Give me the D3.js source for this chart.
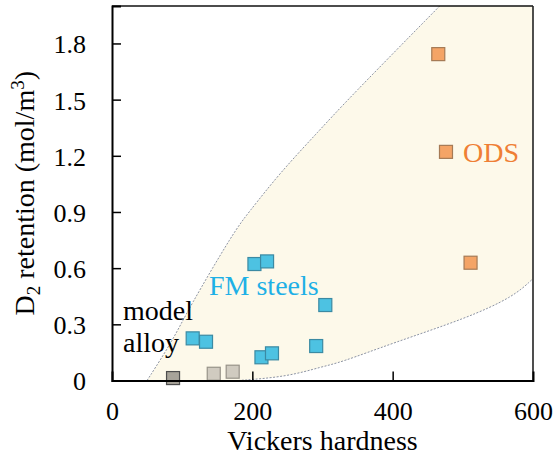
<!DOCTYPE html>
<html>
<head>
<meta charset="utf-8">
<script src="https://cdn.jsdelivr.net/npm/d3@7/dist/d3.min.js"></script>
<style>
  html, body { margin: 0; padding: 0; background: #fff; }
</style>
</head>
<body>
<svg id="chart" width="555" height="456"></svg>
<script>
// Vickers hardness (HV) and D2 retention (mol/m^3) for each material group
const modelHardness = [87, 145, 172];
const modelRetention = [0.013, 0.036, 0.047];

const fmHardness = [115, 134, 203, 221, 213, 228, 291, 304];
const fmRetention = [0.225, 0.207, 0.622, 0.636, 0.124, 0.145, 0.184, 0.403];

const odsHardness = [465, 476, 511];
const odsRetention = [1.743, 1.221, 0.629];

// Tick values
const xTicks = [0, 200, 400, 600];
const yTicks = [0, 0.3, 0.6, 0.9, 1.2, 1.5, 1.8];
const yTickLabels = ["0", "0.3", "0.6", "0.9", "1.2", "1.5", "1.8"];

// Envelope of the data band (hardness, retention)
const bandUpper = [[50, 0], [87, 0.216], [108, 0.376], [175, 0.803], [194, 0.893],
                   [239, 1.108], [296, 1.337], [335, 1.497], [467, 2.0]];
const bandLower = [[180, 0], [250, 0.02], [300, 0.075], [325, 0.095], [400, 0.2],
                   [505, 0.332], [572, 0.447], [598, 0.537]];

const FONT = "'Liberation Serif'";

const svg = d3.select("#chart");
const x = d3.scaleLinear().domain([0, 600]).range([112, 533]);
const y = d3.scaleLinear().domain([0, 2]).range([380.5, 6]);

// Shaded band
const bandLine = d3.line().x(d => x(d[0])).y(d => y(d[1])).curve(d3.curveBasis);

const upperD = bandLine(bandUpper);
const lowerRev = bandLower.slice().reverse();
const areaD = upperD +
  "L" + x(600) + "," + y(2) +
  "L" + x(600) + "," + y(bandLower[bandLower.length - 1][1]) +
  bandLine(lowerRev).replace(/^M/, "L") +
  "Z";

svg.append("path").attr("d", areaD).attr("fill", "#fdf9ea").attr("stroke", "none");

const dashStyle = sel => sel.attr("fill", "none").attr("stroke", "#8c93a3")
  .attr("stroke-width", 1).attr("stroke-dasharray", "2,1.5");
svg.append("path").attr("d", upperD).call(dashStyle);
svg.append("path").attr("d", bandLine(bandLower)).call(dashStyle);

// Markers
const side = 13;
function squares(hs, rs, fill, stroke) {
  svg.append("g").selectAll("rect")
    .data(hs.map((h, i) => [h, rs[i]]))
    .join("rect")
    .attr("x", d => x(d[0]) - side / 2)
    .attr("y", d => y(d[1]) - side / 2)
    .attr("width", side).attr("height", side)
    .attr("fill", typeof fill === "function" ? (d, i) => fill(i) : fill)
    .attr("stroke", typeof stroke === "function" ? (d, i) => stroke(i) : stroke)
    .attr("stroke-width", 1.2);
}
squares(fmHardness, fmRetention, "#4dc2e2", "#3b8aa3");
squares(odsHardness, odsRetention, "#f4a466", "#a57a55");
squares(modelHardness, modelRetention,
  i => i === 0 ? "#a7a399" : "#d0cbc0",
  i => i === 0 ? "#4d4d4d" : "#979389");

// Frame
svg.append("line").attr("x1", x(0)).attr("x2", x(600)).attr("y1", y(2)).attr("y2", y(2))
  .attr("stroke", "#111").attr("stroke-width", 1.6);
svg.append("line").attr("x1", x(600)).attr("x2", x(600)).attr("y1", y(2)).attr("y2", y(0))
  .attr("stroke", "#222").attr("stroke-width", 1.6);

// Axes (ticks point inward)
const xAxis = d3.axisBottom(x).tickValues(xTicks).tickSize(-9).tickPadding(21)
  .tickFormat(d3.format("d"));
const gx = svg.append("g").attr("transform", `translate(0,${y(0)})`).call(xAxis);
gx.select(".domain").attr("stroke", "#000").attr("stroke-width", 2);
gx.selectAll(".tick line").attr("stroke", "#000").attr("stroke-width", 1.5)
  .attr("display", d => (d === 0 || d === 600) ? "none" : null);
gx.selectAll(".tick text").attr("font-size", 26).attr("fill", "#000")
  .style("font-family", FONT).attr("dy", "0.71em");

const yAxis = d3.axisLeft(y).tickValues(yTicks).tickSize(-9).tickPadding(26)
  .tickFormat((d, i) => yTickLabels[i]);
const gy = svg.append("g").attr("transform", `translate(${x(0)},0)`).call(yAxis);
gy.select(".domain").attr("stroke", "#000").attr("stroke-width", 2);
gy.selectAll(".tick line").attr("stroke", "#000").attr("stroke-width", 1.5)
  .attr("display", d => d === 0 ? "none" : null);
gy.selectAll(".tick text").attr("font-size", 26).attr("fill", "#000")
  .style("font-family", FONT).attr("dy", "0.36em");

// Axis titles
svg.append("text").attr("x", (x(0) + x(600)) / 2).attr("y", 450)
  .attr("text-anchor", "middle").attr("font-size", 28).attr("fill", "#000")
  .style("font-family", FONT)
  .text("Vickers hardness");

const yt = svg.append("text")
  .attr("transform", `translate(34,${(y(0) + y(2)) / 2}) rotate(-90)`)
  .attr("text-anchor", "middle").attr("font-size", 28).attr("fill", "#000")
  .style("font-family", FONT);
yt.append("tspan").text("D");
yt.append("tspan").attr("font-size", 19).attr("dy", 6).text("2");
yt.append("tspan").attr("dy", -6).text(" retention (mol/m");
yt.append("tspan").attr("font-size", 19).attr("dy", -10).text("3");
yt.append("tspan").attr("dy", 10).text(")");

// Group labels
const label = (tx, ty, color, s) => svg.append("text").attr("x", tx).attr("y", ty)
  .attr("font-size", 28).attr("fill", color).style("font-family", FONT).text(s);
label(123, 320, "#000", "model");
label(123, 352, "#000", "alloy");
label(209, 295, "#1eb0e6", "FM steels");
label(463, 162, "#ef7f35", "ODS");
</script>
</body>
</html>
